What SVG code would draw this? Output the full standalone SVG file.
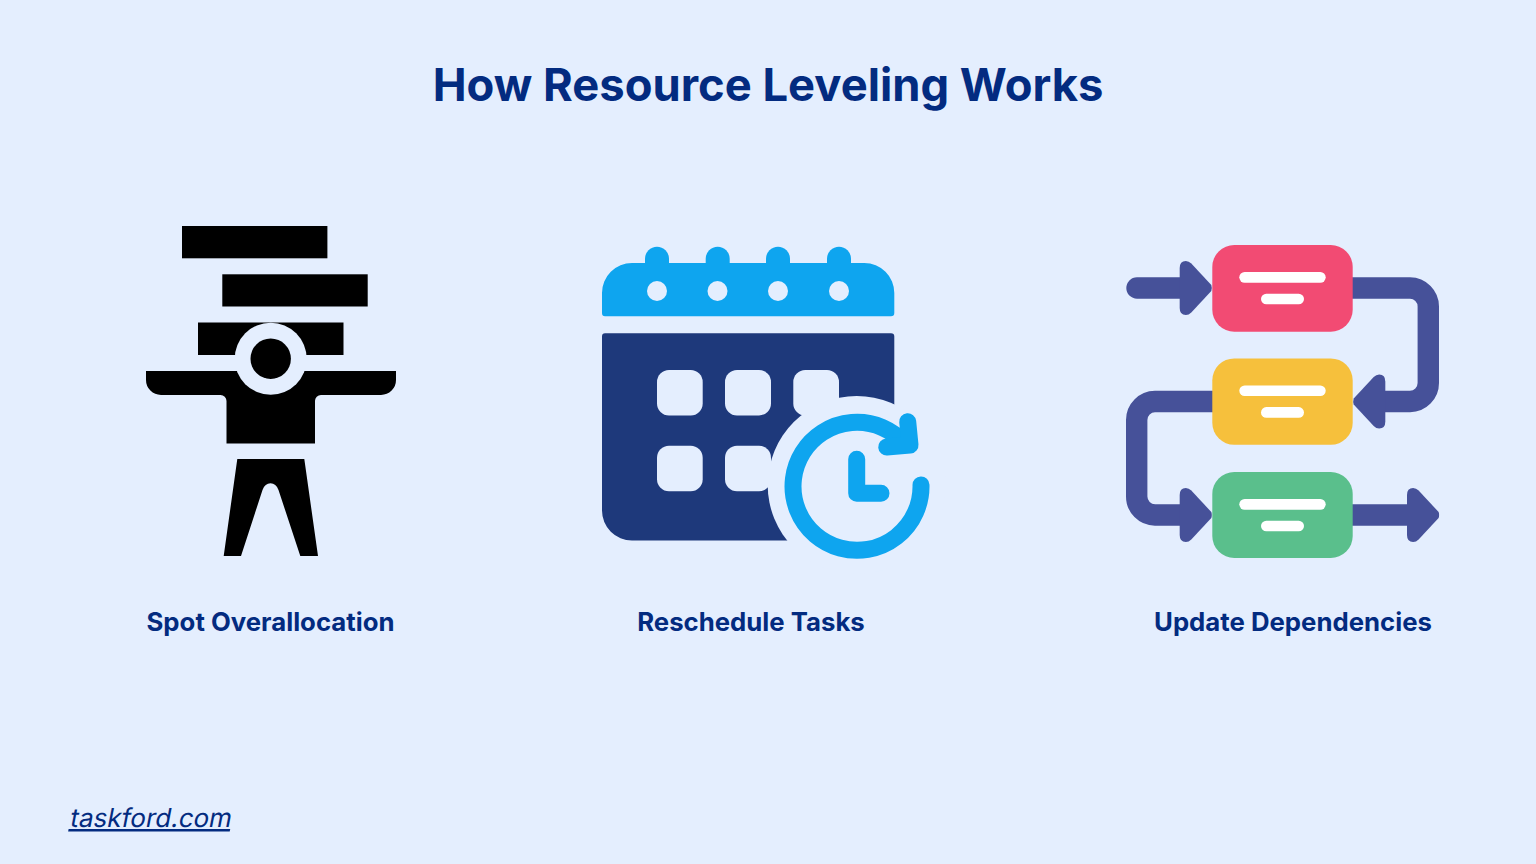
<svg xmlns="http://www.w3.org/2000/svg" xmlns:xlink="http://www.w3.org/1999/xlink" width="1536" height="864" viewBox="0 0 1536 864">
<style>
.bg{fill:#e4eefe}
.t{font-family:"Inter","Liberation Sans",sans-serif;fill:#032b80}
.title{font-size:45.35px;font-weight:700;text-anchor:middle}
.label{font-size:25.75px;font-weight:700;text-anchor:middle}
.foot{font-size:26px;text-decoration:underline}
.blue{fill:#0ea5ef}
.navy{fill:#1e397b}
.ln{fill:none;stroke:#465199;stroke-width:21.4}
.hd{fill:#465199}
.w{fill:#fff}
</style>
<defs>
<path id="head" d="M-32.6 -20 Q-32.6 -27 -26.5 -27 Q-23.5 -27 -21 -24.5 L-1 -3 Q0 0 -1 3 L-21 24.5 Q-23.5 27 -26.5 27 Q-32.6 27 -32.6 20 Z"/>
<g id="lines"><rect class="w" x="27" y="27" width="86.4" height="10.7" rx="5.35"/><rect class="w" x="48.7" y="48.7" width="43" height="10.6" rx="5.3"/></g>
</defs>
<rect class="bg" width="1536" height="864"/>
<text id="title" class="t title" x="768" y="101">How Resource Leveling Works</text>

<g id="spot-overallocation">
<rect x="182" y="226" width="145.4" height="32.3"/>
<rect x="222.3" y="274.3" width="145.4" height="32.2"/>
<rect x="198" y="322.5" width="145.5" height="32.5"/>
<path d="M146 371H396V380A15 15 0 0 1 381 395H321A6 6 0 0 0 315 401V443.5H226.5V401A6 6 0 0 0 220.5 395H161A15 15 0 0 1 146 380Z"/>
<circle class="bg" cx="270.7" cy="358.7" r="36"/>
<circle cx="270.7" cy="358.7" r="20.2"/>
<path d="M237.3 459H304.3L318 556H300.3L278.5 490Q276 483.3 270.5 483.3Q265 483.3 262.5 490L241 556H223.7Z"/>
<text class="t label" x="270.5" y="631">Spot Overallocation</text>
</g>

<g id="reschedule-tasks">
<rect class="blue" x="645" y="246.7" width="24" height="34" rx="12"/>
<rect class="blue" x="705.7" y="246.7" width="24" height="34" rx="12"/>
<rect class="blue" x="766" y="246.7" width="24" height="34" rx="12"/>
<rect class="blue" x="827" y="246.7" width="24" height="34" rx="12"/>
<path class="blue" d="M602 313V293A30 30 0 0 1 632 263H864.3A30 30 0 0 1 894.3 293V313Q894.3 316.3 891 316.3H605Q602 316.3 602 313Z"/>
<circle class="bg" cx="657" cy="291" r="10"/><circle class="bg" cx="717.5" cy="291" r="10"/><circle class="bg" cx="778" cy="291" r="10"/><circle class="bg" cx="839" cy="291" r="10"/>
<path class="navy" d="M605 333.3H891Q894.3 333.3 894.3 336.6V540.6H632A30 30 0 0 1 602 510.6V336.6Q602 333.3 605 333.3Z"/>
<rect class="bg" x="657" y="370" width="45.7" height="45.4" rx="12"/>
<rect class="bg" x="725" y="370" width="46" height="45.4" rx="12"/>
<rect class="bg" x="793.3" y="370" width="45.7" height="45.4" rx="12"/>
<rect class="bg" x="657" y="445.7" width="45.7" height="45.6" rx="12"/>
<rect class="bg" x="725" y="445.7" width="46" height="45.6" rx="12"/>
<circle class="bg" cx="856.7" cy="485" r="89"/>
<path d="M921 485A64 64 0 1 1 905 444" fill="none" stroke="#0ea5ef" stroke-width="17" stroke-linecap="round"/>
<path d="M907.7 421.7L910 445L886.7 447" fill="none" stroke="#0ea5ef" stroke-width="17" stroke-linecap="round" stroke-linejoin="round"/>
<path d="M856.7 459.3V493.3H881" fill="none" stroke="#0ea5ef" stroke-width="17" stroke-linecap="round" stroke-linejoin="round"/>
<text class="t label" x="751" y="631">Reschedule Tasks</text>
</g>

<g id="connectors">
<path class="ln" d="M1137 288H1185" stroke-linecap="round"/>
<use class="hd" xlink:href="#head" href="#head" transform="translate(1212.3 288)"/>
<path class="ln" d="M1350 288H1410A18.5 18.5 0 0 1 1428.3 306.5V383A18.5 18.5 0 0 1 1410 401.5H1380"/>
<use class="hd" xlink:href="#head" href="#head" transform="translate(1352.7 401.5) scale(-1 1)"/>
<path class="ln" d="M1215 401.5H1155A18.5 18.5 0 0 0 1136.7 420V496.5A18.5 18.5 0 0 0 1155 515H1185"/>
<use class="hd" xlink:href="#head" href="#head" transform="translate(1212.3 515)"/>
<path class="ln" d="M1350 515H1412"/>
<use class="hd" xlink:href="#head" href="#head" transform="translate(1439.6 515)"/>
</g>

<g id="update-dependencies">
<g id="step-1" transform="translate(1212.3 245)"><rect width="140.4" height="86.7" rx="22" fill="#f24b73"/><use xlink:href="#lines" href="#lines"/></g>
<g id="step-2" transform="translate(1212.3 358.4)"><rect width="140.4" height="86.4" rx="22" fill="#f6c03c"/><use xlink:href="#lines" href="#lines"/></g>
<g id="step-3" transform="translate(1212.3 472)"><rect width="140.4" height="86" rx="22" fill="#5abf8c"/><use xlink:href="#lines" href="#lines"/></g>
<text class="t label" x="1293" y="631">Update Dependencies</text>
</g>

<text id="footer" class="t foot" transform="translate(69 827) skewX(-11)">taskford.com</text>
</svg>
